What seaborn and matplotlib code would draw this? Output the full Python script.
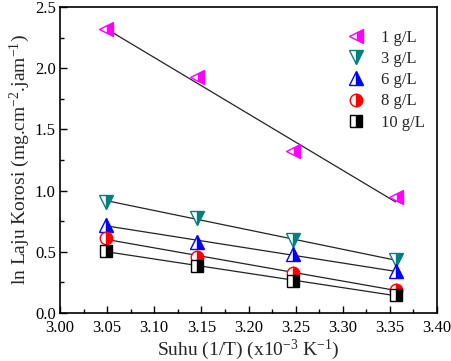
import numpy as np
import pandas as pd
import matplotlib
matplotlib.use("Agg")
import matplotlib.pyplot as plt
import seaborn as sns
from matplotlib.ticker import MultipleLocator, FormatStrFormatter

inv_T = [3.049, 3.145, 3.247, 3.356]
labels = ["1 g/L", "3 g/L", "6 g/L", "8 g/L", "10 g/L"]
y_1 = [2.32, 1.93, 1.32, 0.95]
y_3 = [0.91, 0.78, 0.60, 0.43]
y_6 = [0.72, 0.58, 0.48, 0.34]
y_8 = [0.61, 0.46, 0.33, 0.19]
y_10 = [0.51, 0.38, 0.26, 0.15]
series = [y_1, y_3, y_6, y_8, y_10]
markers = ["<", "v", "^", "o", "s"]
colors = ["#ff00ff", "#008080", "#0000ff", "#ff0000", "#000000"]
msizes = [10, 10, 10, 9, 8]

sns.set_style("ticks")
plt.rcParams["font.family"] = "serif"
plt.rcParams["font.serif"] = ["Liberation Serif", "DejaVu Serif"]
plt.rcParams["mathtext.fontset"] = "custom"
plt.rcParams["mathtext.rm"] = "Liberation Serif"
plt.rcParams["mathtext.it"] = "Liberation Serif:italic"

fig = plt.figure(figsize=(4.51, 3.61), dpi=100)
ax = fig.add_axes([60/451, 1-313/361, 377/451, 306/361])

for lab, ys, m, c, ms in zip(labels, series, markers, colors, msizes):
    df = pd.DataFrame({"x": inv_T, "y": ys})
    sns.regplot(data=df, x="x", y="y", ax=ax, scatter=False, ci=None,
                line_kws=dict(color="#222222", lw=0.9))
    ax.plot(inv_T, ys, linestyle="none", marker=m, ms=ms, color=c,
            markeredgecolor=c, markerfacecolor=c, markerfacecoloralt="white",
            fillstyle="right", mew=1.0, label=lab, zorder=5)

ax.set_xlim(3.00, 3.40)
ax.set_ylim(0.0, 2.5)
ax.xaxis.set_major_locator(MultipleLocator(0.05))
ax.xaxis.set_minor_locator(MultipleLocator(0.025))
ax.yaxis.set_major_locator(MultipleLocator(0.5))
ax.yaxis.set_minor_locator(MultipleLocator(0.25))
ax.xaxis.set_major_formatter(FormatStrFormatter("%.2f"))
ax.yaxis.set_major_formatter(FormatStrFormatter("%.1f"))
ax.tick_params(which="both", direction="in", labelsize=12, width=1, colors="black")
ax.tick_params(which="major", length=5)
ax.tick_params(which="minor", length=3)
ax.tick_params(axis="x", pad=5)
ax.tick_params(axis="y", pad=3)
for s in ax.spines.values():
    s.set_linewidth(1.2)
    s.set_color("black")

ax.set_xlabel("Suhu (1/T) (x10$^{-3}$ K$^{-1}$)", fontsize=14, labelpad=1)
ax.set_ylabel("ln Laju Korosi (mg.cm$^{-2}$.jam$^{-1}$)", fontsize=14, labelpad=2)

ax.legend(loc="upper left", bbox_to_anchor=(0.762, 0.925), frameon=False,
          fontsize=12, handletextpad=1.0, labelspacing=0.31, borderpad=0,
          borderaxespad=0, handlelength=1.0)

fig.savefig("out.png", dpi=100)
